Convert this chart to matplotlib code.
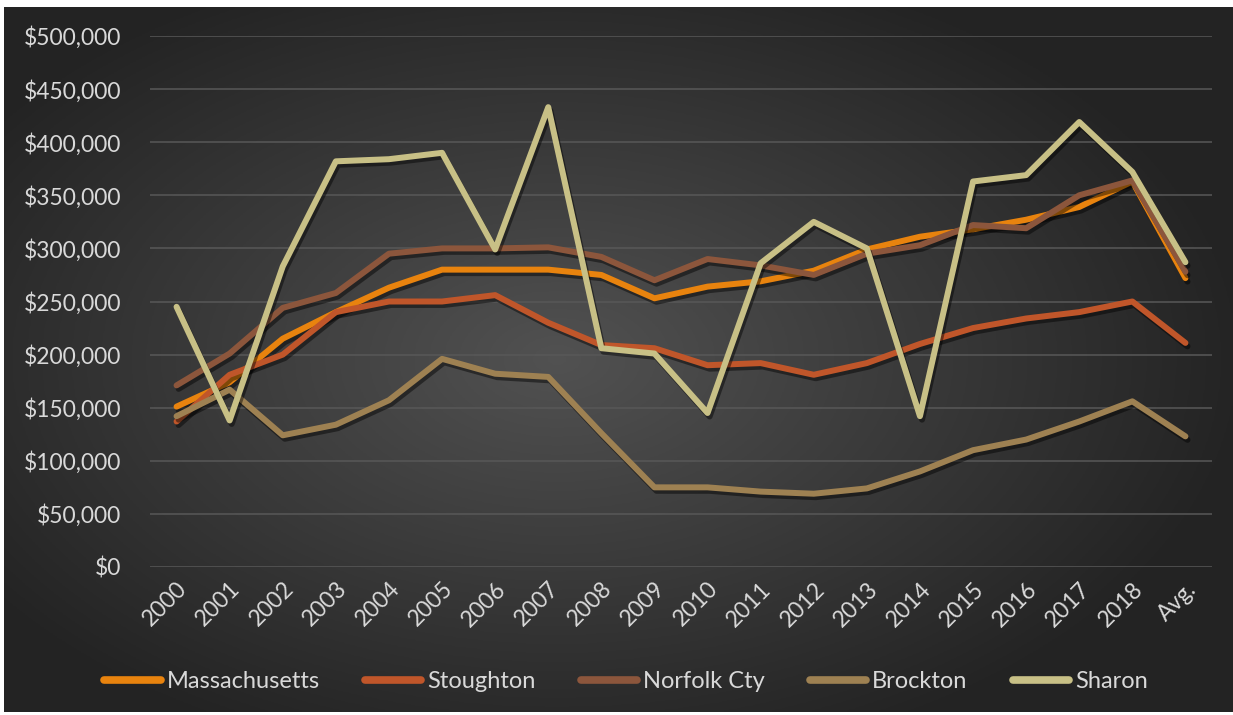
import matplotlib.pyplot as plt
import matplotlib.patheffects as pe
import numpy as np
from matplotlib.ticker import FuncFormatter

years = [str(y) for y in range(2000, 2019)] + ["Avg."]

massachusetts = [151000, 174000, 215000, 240000, 263000, 280000, 280000, 280000, 275000, 253000,
                 264000, 269000, 279000, 299000, 311000, 318000, 327000, 339000, 363000, 272000]
stoughton = [137000, 181000, 200000, 240000, 250000, 250000, 256000, 230000, 209000, 206000,
             190000, 192000, 181000, 192000, 210000, 225000, 234000, 240000, 250000, 211000]
norfolk = [171000, 201000, 244000, 258000, 295000, 300000, 300000, 301000, 292000, 270000,
           290000, 284000, 275000, 295000, 303000, 322000, 319000, 350000, 364000, 278000]
brockton = [142000, 167000, 124000, 134000, 157000, 196000, 182000, 179000, 126000, 75000,
            75000, 71000, 69000, 74000, 90000, 110000, 120000, 137000, 156000, 123000]
sharon = [245000, 138000, 283000, 382000, 384000, 390000, 299000, 433000, 206000, 201000,
          145000, 286000, 325000, 300000, 142000, 363000, 369000, 419000, 372000, 287000]

series = [
    ("Massachusetts", massachusetts, "#E8830E"),
    ("Stoughton", stoughton, "#C0562A"),
    ("Norfolk Cty", norfolk, "#8C563C"),
    ("Brockton", brockton, "#9E8152"),
    ("Sharon", sharon, "#C8C086"),
]

W, H = 1233, 715
fig = plt.figure(figsize=(W / 100, H / 100), dpi=100, facecolor="white")

# dark radial-gradient panel behind everything
bg = fig.add_axes([4 / W, 3 / H, 1 - 4 / W, 1 - 10 / H])
gx, gy = np.meshgrid(np.linspace(-1, 1, 400), np.linspace(-1, 1, 240))
r = np.sqrt(((gx + 0.1) * 0.95) ** 2 + (gy * 0.9) ** 2)
shade = np.clip(0.32 - 0.17 * r, 0.14, 0.32)
bg.imshow(np.dstack([shade, shade, shade]), aspect="auto", extent=[0, 1, 0, 1])
bg.set_axis_off()

ax = fig.add_axes([150 / W, 1 - 567 / H, (1212 - 150) / W, (567 - 36) / H])
ax.patch.set_alpha(0)
text_col = "#D9D9D9"
font = "Lato"

x = np.arange(len(years))
for name, vals, col in series:
    ax.plot(x, vals, color=col, lw=4.3, label=name, solid_joinstyle="round",
            solid_capstyle="round",
            path_effects=[pe.SimpleLineShadow(offset=(1.5, -2.5), shadow_color="black", alpha=0.45),
                          pe.Normal()])

ax.set_xlim(-0.5, len(years) - 0.5)
ax.set_ylim(0, 500000)
ax.set_yticks(np.arange(0, 500001, 50000))
ax.yaxis.set_major_formatter(FuncFormatter(lambda v, p: "${:,.0f}".format(v)))
ax.grid(axis="y", color="#585858", lw=1.1)
ax.set_axisbelow(True)
for s in ax.spines.values():
    s.set_visible(False)
ax.tick_params(length=0, colors=text_col, labelsize=16.5, pad=21)
ax.tick_params(axis="x", pad=8)
ax.set_xticks(x)
ax.set_xticklabels(years, rotation=45, ha="right", rotation_mode="anchor")
for lbl in ax.get_xticklabels() + ax.get_yticklabels():
    lbl.set_fontfamily(font)
    lbl.set_color(text_col)

leg = fig.legend(loc="center", bbox_to_anchor=(626 / W, 1 - 682 / H), ncol=5, frameon=False,
                 handlelength=2.4, columnspacing=1.9, handletextpad=0.25,
                 prop={"family": font, "size": 17})
for t in leg.get_texts():
    t.set_color(text_col)
for h in leg.get_lines():
    h.set_linewidth(5.5)
    h.set_path_effects([])

fig.savefig("out.png", dpi=100, facecolor="white")
